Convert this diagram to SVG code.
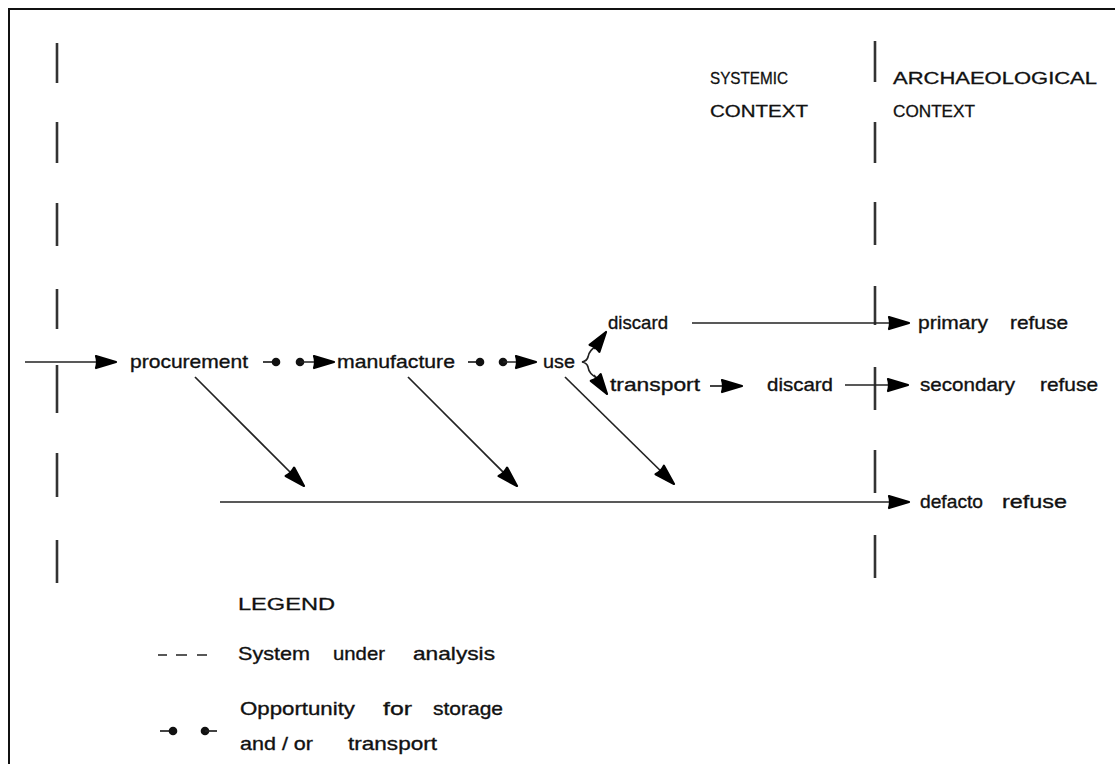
<svg xmlns="http://www.w3.org/2000/svg" width="1115" height="764" viewBox="0 0 1115 764">
<defs>
<style>
.t{font-family:"Liberation Sans",Arial,sans-serif;font-size:19px;fill:#111;stroke:#111;stroke-width:0.35;}
.c{font-family:"Liberation Sans",Arial,sans-serif;font-size:17px;fill:#111;stroke:#111;stroke-width:0.3;}
.ln{stroke:#222;stroke-width:1.7;fill:none;}
.ds{stroke:#333;stroke-width:2.6;fill:none;}
.dot{fill:#111;}
</style>
<marker id="ah" markerUnits="userSpaceOnUse" markerWidth="26" markerHeight="18" refX="22" refY="9" orient="auto">
<path d="M2,3 L22,9 L2,15 Q4,9 2,3 z" fill="#000" stroke="#000" stroke-width="2.2" stroke-linejoin="round"/>
</marker>
</defs>
<rect width="1115" height="764" fill="#fff"/>
<g id="frame">
<line x1="8" y1="9" x2="1115" y2="9" stroke="#111" stroke-width="2"/>
<line x1="9" y1="9" x2="9" y2="764" stroke="#111" stroke-width="2"/>
</g>
<g id="boundaries">
<path class="ds" d="M57,43V83M57,122V163M57,203V246M57,289V329M57,365V413M57,453V497M57,540V583"/>
<path class="ds" d="M875,41V82M875,122V163M875,202V245M875,286V325M875,367V410M875,450V493M875,535V578"/>
</g>
<g id="connectors">
<line class="ln" x1="25" y1="362" x2="116" y2="362" marker-end="url(#ah)"/>
<line class="ln" x1="263" y1="362" x2="274" y2="362"/>
<circle class="dot" cx="276" cy="362" r="4.3"/>
<circle class="dot" cx="300" cy="362" r="4.3"/>
<line class="ln" x1="300" y1="362" x2="334" y2="362" marker-end="url(#ah)"/>
<line class="ln" x1="468" y1="362" x2="478" y2="362"/>
<circle class="dot" cx="480" cy="362" r="4.3"/>
<circle class="dot" cx="503" cy="362" r="4.3"/>
<line class="ln" x1="503" y1="362" x2="536" y2="362" marker-end="url(#ah)"/>
<path class="ln" d="M597,346 Q589,350 588,357 Q587,361 582,362 Q587,363 588,367 Q589,374 597,378"/>
<line class="ln" x1="594" y1="349" x2="606" y2="332" marker-end="url(#ah)"/>
<line class="ln" x1="594" y1="375" x2="607" y2="394" marker-end="url(#ah)"/>
<line class="ln" x1="692" y1="323" x2="909" y2="323" marker-end="url(#ah)"/>
<line class="ln" x1="710" y1="386" x2="742" y2="386" marker-end="url(#ah)"/>
<line class="ln" x1="845" y1="385" x2="908" y2="385" marker-end="url(#ah)"/>
<line class="ln" x1="195" y1="377" x2="304" y2="486" marker-end="url(#ah)"/>
<line class="ln" x1="408" y1="377" x2="517" y2="486" marker-end="url(#ah)"/>
<line class="ln" x1="565" y1="377" x2="674" y2="484" marker-end="url(#ah)"/>
<line class="ln" x1="220" y1="502" x2="909" y2="502" marker-end="url(#ah)"/>
</g>
<g id="header-systemic">
<text class="c" x="710" y="84" textLength="78" lengthAdjust="spacingAndGlyphs">SYSTEMIC</text>
<text class="c" x="710" y="117" textLength="98" lengthAdjust="spacingAndGlyphs">CONTEXT</text>
</g>
<g id="header-archaeological">
<text class="c" x="893" y="84" textLength="204" lengthAdjust="spacingAndGlyphs">ARCHAEOLOGICAL</text>
<text class="c" x="893" y="117" textLength="82" lengthAdjust="spacingAndGlyphs">CONTEXT</text>
</g>
<g id="node-procurement"><text class="t" x="130" y="368" textLength="118" lengthAdjust="spacingAndGlyphs">procurement</text></g>
<g id="node-manufacture"><text class="t" x="337" y="368" textLength="118" lengthAdjust="spacingAndGlyphs">manufacture</text></g>
<g id="node-use"><text class="t" x="543" y="368" textLength="32" lengthAdjust="spacingAndGlyphs">use</text></g>
<g id="node-discard-1"><text class="t" x="608" y="329" textLength="60" lengthAdjust="spacingAndGlyphs">discard</text></g>
<g id="node-transport"><text class="t" x="610" y="391" textLength="90" lengthAdjust="spacingAndGlyphs">transport</text></g>
<g id="node-discard-2"><text class="t" x="767" y="391" textLength="66" lengthAdjust="spacingAndGlyphs">discard</text></g>
<g id="node-primary-refuse"><text class="t" x="918" y="329" textLength="70" lengthAdjust="spacingAndGlyphs">primary</text><text class="t" x="1010" y="329" textLength="58" lengthAdjust="spacingAndGlyphs">refuse</text></g>
<g id="node-secondary-refuse"><text class="t" x="920" y="391" textLength="95" lengthAdjust="spacingAndGlyphs">secondary</text><text class="t" x="1040" y="391" textLength="58" lengthAdjust="spacingAndGlyphs">refuse</text></g>
<g id="node-defacto-refuse"><text class="t" x="920" y="508" textLength="63" lengthAdjust="spacingAndGlyphs">defacto</text><text class="t" x="1002" y="508" textLength="65" lengthAdjust="spacingAndGlyphs">refuse</text></g>
<g id="legend">
<text class="c" x="238" y="610" textLength="97" lengthAdjust="spacingAndGlyphs">LEGEND</text>
<path class="ln" stroke-width="2.2" d="M158,655H167M176,655H187M197,655H207"/>
<text class="t" y="660"><tspan x="238" textLength="72" lengthAdjust="spacingAndGlyphs">System</tspan><tspan x="333" textLength="52" lengthAdjust="spacingAndGlyphs">under</tspan><tspan x="413" textLength="82" lengthAdjust="spacingAndGlyphs">analysis</tspan></text>
<text class="t" y="715"><tspan x="240" textLength="115" lengthAdjust="spacingAndGlyphs">Opportunity</tspan><tspan x="383" textLength="29" lengthAdjust="spacingAndGlyphs">for</tspan><tspan x="433" textLength="70" lengthAdjust="spacingAndGlyphs">storage</tspan></text>
<text class="t" y="750"><tspan x="240" textLength="73" lengthAdjust="spacingAndGlyphs">and / or</tspan><tspan x="348" textLength="89" lengthAdjust="spacingAndGlyphs">transport</tspan></text>
<line class="ln" x1="160" y1="731" x2="170" y2="731"/>
<circle class="dot" cx="173" cy="731" r="4.3"/>
<circle class="dot" cx="205" cy="731" r="4.3"/>
<line class="ln" x1="205" y1="731" x2="217" y2="731"/>
</g>
</svg>
